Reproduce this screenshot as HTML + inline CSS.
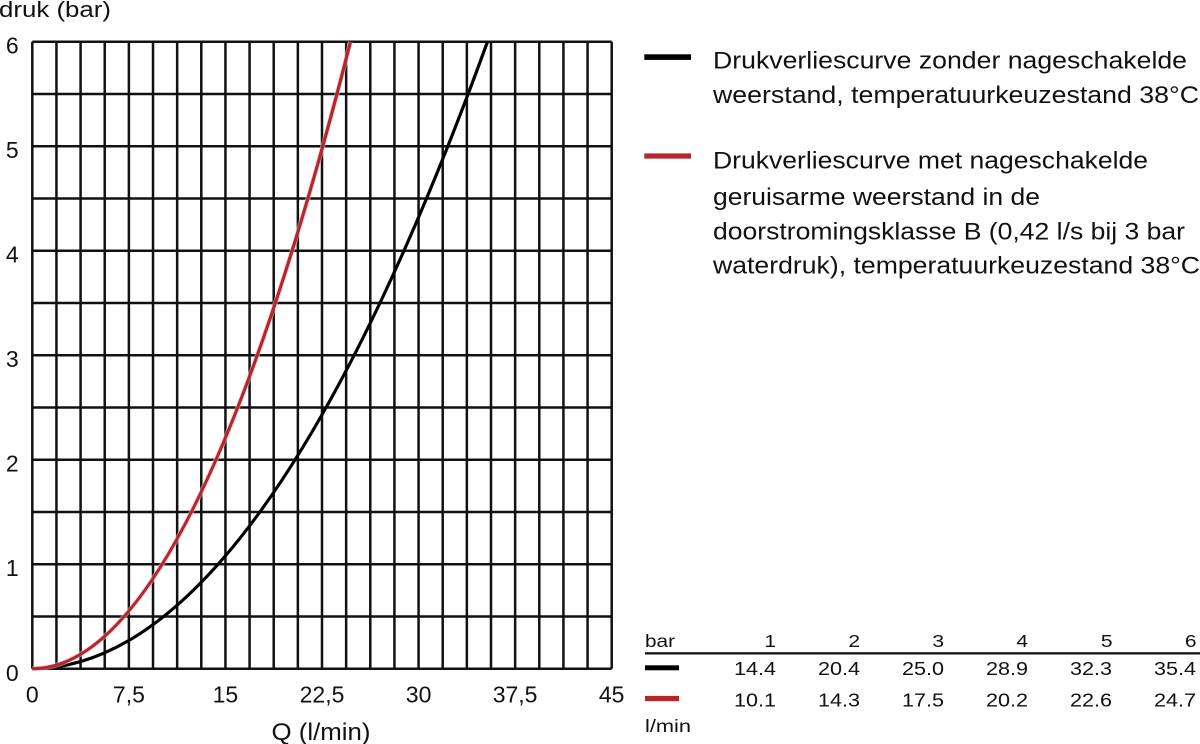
<!DOCTYPE html>
<html><head><meta charset="utf-8"><style>
html,body{margin:0;padding:0;background:#fff;}
svg{display:block;}
text{font-family:"Liberation Sans",Arial,sans-serif;fill:#111;}
</style></head><body>
<svg width="1200" height="744" viewBox="0 0 1200 744" xmlns="http://www.w3.org/2000/svg">
<rect width="1200" height="744" fill="#fff"/>
<g stroke="#111" stroke-width="2.5" fill="none">
<path d="M32.3 41.7V668.7M56.44 41.7V668.7M80.58 41.7V668.7M104.73 41.7V668.7M128.87 41.7V668.7M153.01 41.7V668.7M177.15 41.7V668.7M201.29 41.7V668.7M225.44 41.7V668.7M249.58 41.7V668.7M273.72 41.7V668.7M297.86 41.7V668.7M322 41.7V668.7M346.15 41.7V668.7M370.29 41.7V668.7M394.43 41.7V668.7M418.57 41.7V668.7M442.71 41.7V668.7M466.86 41.7V668.7M491 41.7V668.7M515.14 41.7V668.7M539.28 41.7V668.7M563.42 41.7V668.7M587.57 41.7V668.7M611.7 41.7V668.7"/>
<path d="M32.3 41.7H611.7M32.3 93.95H611.7M32.3 146.2H611.7M32.3 198.45H611.7M32.3 250.7H611.7M32.3 302.95H611.7M32.3 355.2H611.7M32.3 407.45H611.7M32.3 459.7H611.7M32.3 511.95H611.7M32.3 564.2H611.7M32.3 616.45H611.7M32.3 668.7H611.7"/>
</g>
<path d="M32.3 668.7 Q259.9 668.7 487.5 41.7" stroke="#000" stroke-width="3.2" fill="none"/>
<path d="M32.3 668.7 Q191.4 668.7 350.5 41.7" stroke="#f3b7bb" stroke-width="5" fill="none" opacity="0.6"/>
<path d="M32.3 668.7 Q191.4 668.7 350.5 41.7" stroke="#b3262c" stroke-width="3.2" fill="none"/>

<text x="-1" y="17" font-size="22" textLength="112" lengthAdjust="spacingAndGlyphs">druk (bar)</text>
<g font-size="23" text-anchor="middle">
<text x="12.3" y="53.7">6</text>
<text x="12.3" y="158.2">5</text>
<text x="12.3" y="262.7">4</text>
<text x="12.3" y="367.2">3</text>
<text x="12.3" y="471.7">2</text>
<text x="12.3" y="576.2">1</text>
<text x="12.3" y="681">0</text>
<text x="32.3" y="702.5">0</text>
<text x="128.9" y="702.5">7,5</text>
<text x="225.4" y="702.5">15</text>
<text x="322" y="702.5">22,5</text>
<text x="418.6" y="702.5">30</text>
<text x="515.1" y="702.5">37,5</text>
<text x="611.7" y="702.5">45</text>
</g>
<text x="271.5" y="740" font-size="24" textLength="99" lengthAdjust="spacingAndGlyphs">Q (l/min)</text>

<rect x="644.3" y="54.3" width="46.7" height="5.6" fill="#000"/>
<rect x="644.3" y="153" width="46.7" height="6" fill="#f0b0b4" opacity="0.7"/>
<rect x="644.3" y="153.5" width="46.7" height="5" fill="#b3262c"/>
<g font-size="24">
<text x="713" y="68.5" textLength="474" lengthAdjust="spacingAndGlyphs">Drukverliescurve zonder nageschakelde</text>
<text x="713" y="103" textLength="486" lengthAdjust="spacingAndGlyphs">weerstand, temperatuurkeuzestand 38°C</text>
<text x="713" y="168.5" textLength="435" lengthAdjust="spacingAndGlyphs">Drukverliescurve met nageschakelde</text>
<text x="713" y="205" textLength="327" lengthAdjust="spacingAndGlyphs">geruisarme weerstand in de</text>
<text x="713" y="239.5" textLength="472" lengthAdjust="spacingAndGlyphs">doorstromingsklasse B (0,42 l/s bij 3 bar</text>
<text x="713" y="273.5" textLength="487" lengthAdjust="spacingAndGlyphs">waterdruk), temperatuurkeuzestand 38°C</text>
</g>

<text x="645" y="647" font-size="17.5" textLength="30" lengthAdjust="spacingAndGlyphs">bar</text>
<g font-size="17.5" text-anchor="end">
<g transform="translate(776 647) scale(1.2 1)"><text x="0" y="0">1</text></g>
<g transform="translate(860 647) scale(1.2 1)"><text x="0" y="0">2</text></g>
<g transform="translate(944 647) scale(1.2 1)"><text x="0" y="0">3</text></g>
<g transform="translate(1028 647) scale(1.2 1)"><text x="0" y="0">4</text></g>
<g transform="translate(1112.5 647) scale(1.2 1)"><text x="0" y="0">5</text></g>
<g transform="translate(1196.5 647) scale(1.2 1)"><text x="0" y="0">6</text></g>
</g>
<rect x="645" y="652.2" width="555" height="2.3" fill="#111"/>
<rect x="645" y="665.3" width="34" height="5" fill="#000"/>
<rect x="645" y="695.5" width="34" height="6" fill="#f0b0b4" opacity="0.7"/>
<rect x="645" y="696" width="34" height="5" fill="#b3262c"/>
<g font-size="18">
<text x="734" y="675" textLength="42" lengthAdjust="spacingAndGlyphs">14.4</text>
<text x="818" y="675" textLength="42" lengthAdjust="spacingAndGlyphs">20.4</text>
<text x="902" y="675" textLength="42" lengthAdjust="spacingAndGlyphs">25.0</text>
<text x="986" y="675" textLength="42" lengthAdjust="spacingAndGlyphs">28.9</text>
<text x="1070" y="675" textLength="42" lengthAdjust="spacingAndGlyphs">32.3</text>
<text x="1154" y="675" textLength="42" lengthAdjust="spacingAndGlyphs">35.4</text>
<text x="734" y="706.5" textLength="42" lengthAdjust="spacingAndGlyphs">10.1</text>
<text x="818" y="706.5" textLength="42" lengthAdjust="spacingAndGlyphs">14.3</text>
<text x="902" y="706.5" textLength="42" lengthAdjust="spacingAndGlyphs">17.5</text>
<text x="986" y="706.5" textLength="42" lengthAdjust="spacingAndGlyphs">20.2</text>
<text x="1070" y="706.5" textLength="42" lengthAdjust="spacingAndGlyphs">22.6</text>
<text x="1154" y="706.5" textLength="42" lengthAdjust="spacingAndGlyphs">24.7</text>
</g>
<text x="645" y="732" font-size="17.5" textLength="46" lengthAdjust="spacingAndGlyphs">l/min</text>
</svg>
</body></html>
